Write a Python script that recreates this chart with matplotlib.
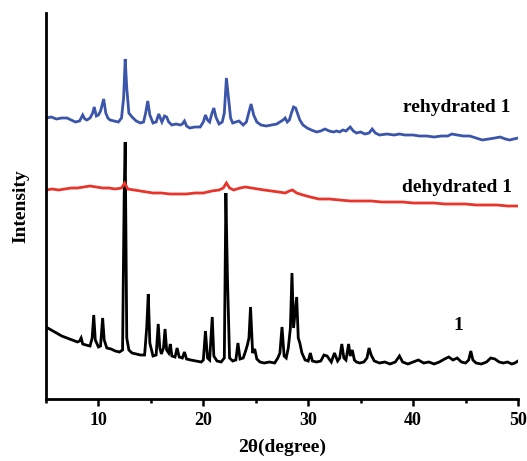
import numpy as np
import matplotlib.pyplot as plt
from matplotlib.ticker import MultipleLocator

# XRD patterns: (2theta, intensity in arbitrary offset units)
pattern_1 = [
    (5.0, 71), (5.5, 68), (6.0, 65), (6.5, 62), (7.0, 60), (7.5, 58), (8.0, 56), (8.2, 57),
    (8.35, 60), (8.5, 54), (8.8, 53), (9.2, 52), (9.4, 60), (9.55, 83), (9.7, 58), (10.0, 51),
    (10.2, 52), (10.4, 80), (10.55, 58), (10.8, 50), (11.2, 49), (11.6, 47), (12.0, 46),
    (12.3, 48), (12.45, 200), (12.55, 256), (12.7, 60), (12.9, 48), (13.2, 45), (13.6, 44),
    (14.0, 43), (14.4, 43), (14.6, 70), (14.75, 104), (14.9, 55), (15.2, 42), (15.5, 43),
    (15.7, 74), (15.85, 50), (16.0, 44), (16.2, 50), (16.35, 69), (16.5, 48), (16.7, 45),
    (16.85, 54), (17.0, 42), (17.3, 41), (17.5, 50), (17.7, 41), (18.0, 40), (18.2, 46),
    (18.4, 39), (18.8, 38), (19.3, 37), (19.8, 36), (20.0, 38), (20.2, 67), (20.4, 40),
    (20.6, 38), (20.85, 81), (21.0, 42), (21.3, 37), (21.7, 36), (22.0, 40), (22.15, 205),
    (22.3, 120), (22.5, 40), (22.8, 37), (23.1, 38), (23.3, 55), (23.5, 39), (23.8, 40),
    (24.0, 46), (24.2, 53), (24.35, 60), (24.5, 91), (24.7, 45), (24.9, 49), (25.1, 39),
    (25.4, 36), (25.8, 35), (26.3, 36), (26.8, 35), (27.1, 40), (27.3, 45), (27.5, 71),
    (27.7, 42), (27.9, 40), (28.1, 50), (28.3, 70), (28.45, 125), (28.6, 70), (28.75, 85),
    (28.9, 101), (29.05, 60), (29.2, 55), (29.4, 45), (29.7, 38), (30.0, 37), (30.2, 45),
    (30.4, 37), (30.8, 36), (31.2, 37), (31.5, 43), (31.8, 42), (32.2, 36), (32.5, 45),
    (32.8, 37), (33.0, 40), (33.2, 54), (33.4, 40), (33.6, 38), (33.85, 54), (34.0, 42),
    (34.2, 48), (34.4, 38), (34.6, 36), (34.9, 35), (35.3, 36), (35.6, 40), (35.8, 50),
    (36.0, 43), (36.3, 37), (36.8, 35), (37.3, 36), (37.8, 34), (38.3, 36), (38.7, 42),
    (39.0, 36), (39.5, 34), (40.0, 36), (40.5, 38), (41.0, 35), (41.5, 36), (42.0, 34),
    (42.5, 36), (43.0, 39), (43.4, 41), (43.8, 38), (44.2, 40), (44.6, 36), (45.0, 35),
    (45.3, 38), (45.5, 47), (45.7, 38), (46.0, 35), (46.5, 34), (47.0, 36), (47.4, 40),
    (47.8, 39), (48.2, 36), (48.6, 35), (49.0, 36), (49.4, 34), (49.7, 35), (50.0, 37),
]

pattern_dehydrated = [
    (5.0, 208), (5.6, 209), (6.2, 208), (6.8, 209), (7.4, 210), (8.0, 210), (8.6, 211),
    (9.2, 212), (9.8, 211), (10.4, 210), (11.0, 210), (11.6, 209), (12.2, 210), (12.5, 215),
    (12.8, 209), (13.4, 208), (14.0, 207), (14.6, 206), (15.2, 205), (16.0, 205), (16.8, 204),
    (17.6, 204), (18.4, 204), (19.2, 205), (20.0, 205), (20.8, 207), (21.5, 208), (21.9, 210),
    (22.2, 215), (22.5, 210), (22.9, 208), (23.5, 210), (24.0, 211), (24.6, 210), (25.2, 209),
    (25.8, 208), (26.5, 207), (27.2, 206), (27.8, 205), (28.2, 207), (28.5, 208), (28.9, 205),
    (29.5, 203), (30.2, 201), (31.0, 199), (32.0, 199), (33.0, 198), (34.0, 197), (35.0, 197),
    (36.0, 197), (37.0, 196), (38.0, 196), (39.0, 196), (40.0, 195), (41.0, 195), (42.0, 195),
    (43.0, 194), (44.0, 194), (45.0, 194), (46.0, 193), (47.0, 193), (48.0, 193), (49.0, 192),
    (50.0, 192),
]

pattern_rehydrated = [
    (5.0, 280), (5.5, 281), (6.0, 279), (6.5, 280), (7.0, 280), (7.4, 278), (7.8, 276),
    (8.2, 277), (8.5, 283), (8.7, 279), (8.9, 278), (9.2, 280), (9.45, 285), (9.6, 291),
    (9.8, 282), (10.0, 283), (10.2, 287), (10.5, 299), (10.7, 285), (10.9, 280), (11.1, 278),
    (11.5, 277), (11.9, 276), (12.2, 280), (12.4, 300), (12.55, 339), (12.7, 310), (12.9, 285),
    (13.2, 281), (13.6, 277), (14.0, 275), (14.3, 276), (14.5, 285), (14.7, 297), (14.9, 283),
    (15.2, 275), (15.5, 276), (15.75, 284), (15.9, 280), (16.05, 276), (16.3, 282), (16.5, 281),
    (16.7, 276), (17.0, 273), (17.4, 274), (17.8, 273), (18.0, 274), (18.2, 277), (18.4, 272),
    (18.7, 270), (19.2, 271), (19.7, 271), (20.0, 276), (20.2, 283), (20.4, 278), (20.6, 276),
    (20.8, 284), (21.0, 290), (21.2, 281), (21.5, 274), (21.8, 276), (22.0, 285), (22.2, 320),
    (22.4, 300), (22.6, 280), (22.8, 275), (23.1, 276), (23.4, 277), (23.8, 273), (24.1, 276),
    (24.3, 284), (24.55, 294), (24.8, 283), (25.1, 276), (25.5, 273), (26.0, 272), (26.5, 273),
    (27.0, 274), (27.3, 276), (27.6, 278), (27.8, 280), (28.0, 276), (28.2, 278), (28.4, 285),
    (28.6, 291), (28.8, 290), (29.0, 284), (29.2, 278), (29.5, 273), (29.9, 270), (30.3, 268),
    (30.8, 266), (31.2, 267), (31.6, 269), (32.0, 267), (32.4, 266), (32.7, 267), (33.0, 266),
    (33.3, 268), (33.6, 267), (34.0, 271), (34.3, 267), (34.6, 265), (35.0, 266), (35.4, 264),
    (35.8, 265), (36.1, 269), (36.4, 265), (36.8, 263), (37.5, 264), (38.2, 263), (38.7, 264),
    (39.2, 263), (40.0, 263), (40.6, 262), (41.3, 262), (42.0, 261), (42.7, 262), (43.3, 262),
    (43.7, 264), (44.2, 263), (44.8, 262), (45.4, 262), (46.0, 260), (46.6, 258), (47.2, 259),
    (47.8, 260), (48.3, 261), (48.8, 259), (49.2, 258), (49.6, 259), (50.0, 260),
]

labels = ["1", "dehydrated 1", "rehydrated 1"]
label_pos = [(44.3, 73), (44.2, 210), (44.2, 291)]
colors = ["black", "#e8342b", "#3b55aa"]

plt.rcParams['font.family'] = ['Liberation Serif', 'DejaVu Serif']
plt.rcParams['font.weight'] = 'bold'

fig = plt.figure(figsize=(5.27, 4.61), dpi=100)
ax = fig.add_axes([46 / 527, 62 / 461, 472 / 527, 386 / 461])

for pat, c in zip([pattern_1, pattern_dehydrated, pattern_rehydrated], colors):
    arr = np.array(pat)
    ax.plot(arr[:, 0], arr[:, 1], color=c, lw=2.0, solid_joinstyle='miter')

for lab, (x, y) in zip(labels, label_pos):
    ax.text(x, y, lab, ha='center', va='center', fontsize=14, fontweight='bold')

ax.set_xlim(5, 50)
ax.set_ylim(-1, 385)
ax.spines['top'].set_visible(False)
ax.spines['right'].set_visible(False)
ax.spines['left'].set_linewidth(2.0)
ax.spines['bottom'].set_linewidth(2.0)

ax.xaxis.set_major_locator(MultipleLocator(10))
ax.xaxis.set_minor_locator(MultipleLocator(5))
ax.tick_params(axis='x', which='major', direction='out', length=5, width=1.8, labelsize=13, pad=4)
ax.tick_params(axis='x', which='minor', direction='out', length=3, width=1.8)
ax.set_yticks([])
for t in ax.get_xticklabels():
    t.set_fontweight('bold')

ax.set_xlabel('2θ(degree)', fontsize=14, fontweight='bold', labelpad=7)
ax.set_ylabel('Intensity', fontsize=14, fontweight='bold', labelpad=12)

fig.savefig('out.png', dpi=100)
